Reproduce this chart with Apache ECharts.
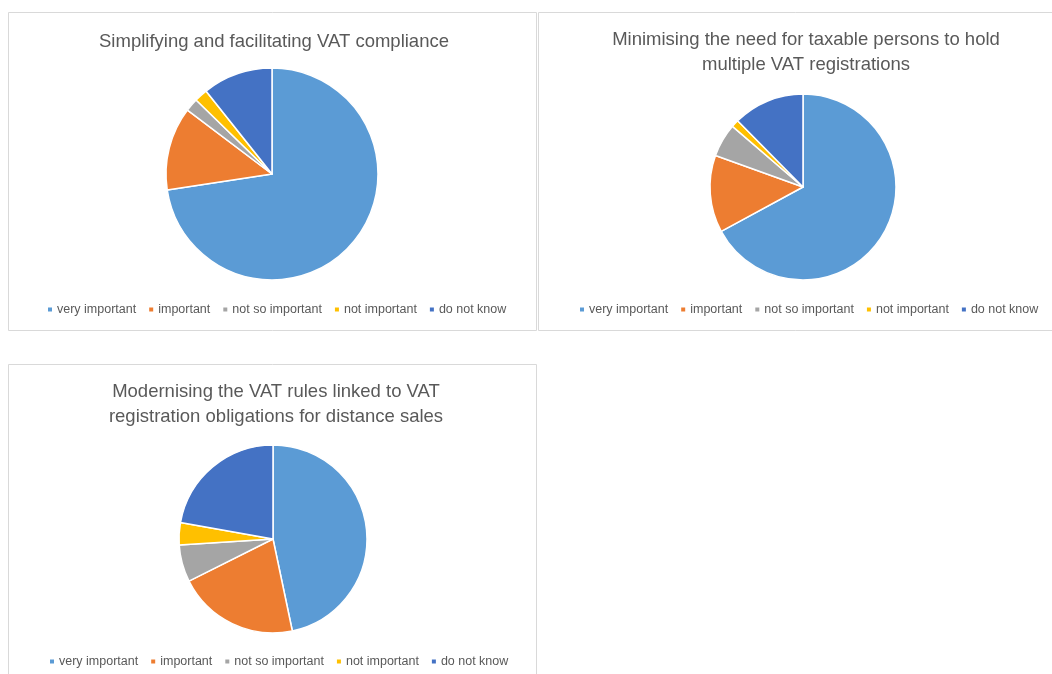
<!DOCTYPE html>
<html>
<head>
<meta charset="utf-8">
<script src="https://cdn.jsdelivr.net/npm/echarts@6/dist/echarts.min.js"></script>
<style>
  html, body { margin: 0; padding: 0; background: #fff; }
  #main { width: 1052px; height: 674px; }
</style>
</head>
<body>
<div id="main"></div>
<script>
// answer categories (same for all three charts)
const categories = ['very important', 'important', 'not so important', 'not important', 'do not know'];
const colors = ['#5B9BD5', '#ED7D31', '#A5A5A5', '#FFC000', '#4472C4'];

// shares (percent)
const compliance = [72.6, 12.7, 2.0, 2.0, 10.7];
const registrations = [67.1, 13.4, 5.8, 1.3, 12.4];
const distanceSales = [46.7, 20.9, 6.4, 3.8, 22.2];

const titles = [
  'Simplifying and facilitating VAT compliance',
  'Minimising the need for taxable persons to hold\nmultiple VAT registrations',
  'Modernising the VAT rules linked to VAT\nregistration obligations for distance sales'
];

const font = '"Liberation Sans", Arial, sans-serif';
const textColor = '#595959';

// panel boxes and where the pie, title and legend sit in each
const panels = [
  { x: 8, y: 12, w: 528, h: 318, cx: 272, cy: 174, r: 106, titleX: 269, titleTop: 24, legendTop: 302, legendLeft: 41 },
  { x: 538, y: 12, w: 530, h: 318, cx: 803, cy: 187, r: 93, titleX: 801, titleTop: 22, legendTop: 302, legendLeft: 573 },
  { x: 8, y: 364, w: 528, h: 330, cx: 273, cy: 539, r: 94, titleX: 271, titleTop: 374, legendTop: 654, legendLeft: 43 }
];
const dataSets = [compliance, registrations, distanceSales];

function pieData(values) {
  return categories.map((name, i) => ({ name: name, value: values[i] }));
}

let myChart = echarts.init(document.getElementById('main'), null, { renderer: 'canvas' });

let option = {
  backgroundColor: '#fff',
  animation: false,
  color: colors,
  graphic: panels.map(p => ({
    type: 'rect',
    shape: { x: p.x + 0.5, y: p.y + 0.5, width: p.w, height: p.h },
    style: { fill: '#fff', stroke: '#D9D9D9', lineWidth: 1 },
    z: -10
  })),
  title: panels.map((p, i) => ({
    text: titles[i],
    left: p.titleX,
    top: p.titleTop,
    textAlign: 'center',
    textStyle: {
      fontFamily: font,
      fontSize: 18.5,
      fontWeight: 'normal',
      color: textColor,
      lineHeight: 25
    }
  })),
  legend: panels.map((p, i) => ({
    data: categories,
    left: p.legendLeft,
    top: p.legendTop - 4,
    orient: 'horizontal',
    icon: 'rect',
    itemWidth: 6,
    itemHeight: 6,
    itemGap: 11,
    seriesIndex: i,
    textStyle: { fontFamily: font, fontSize: 12.5, color: textColor, padding: [0, 0, 0, -1] },
    selectedMode: false
  })),
  series: panels.map((p, i) => ({
    type: 'pie',
    name: 'chart' + i,
    center: [p.cx, p.cy],
    radius: [0, p.r],
    startAngle: 90,
    clockwise: true,
    label: { show: false },
    labelLine: { show: false },
    itemStyle: { borderColor: '#fff', borderWidth: 1.5 },
    emphasis: { disabled: true },
    data: pieData(dataSets[i])
  }))
};

option && myChart.setOption(option);
</script>
</body>
</html>
